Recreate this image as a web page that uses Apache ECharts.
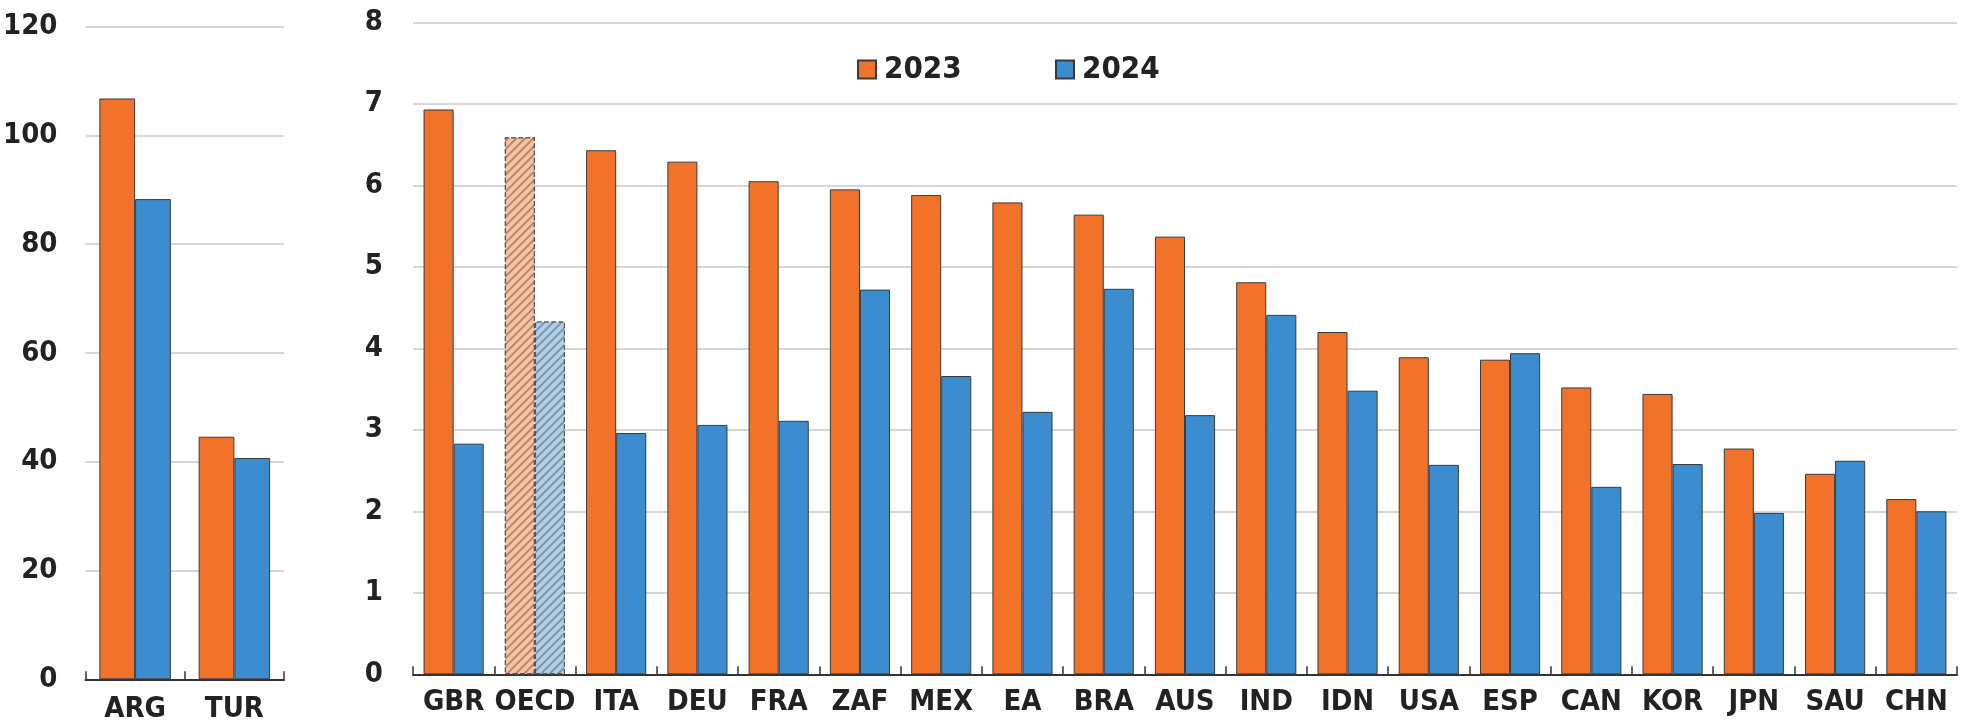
<!DOCTYPE html>
<html>
<head>
<meta charset="utf-8">
<script src="https://cdn.jsdelivr.net/npm/echarts@6/dist/echarts.min.js"></script>
<style>
html,body{margin:0;padding:0;background:#fff;}
#chart{width:1972px;height:725px;}
</style>
</head>
<body>
<div id="chart"></div>
<script>
// ---- data ----
const leftCategories = ['ARG', 'TUR'];
const left2023 = [106.8, 44.6];
const left2024 = [88.3, 40.7];

const rightCategories = ['GBR','OECD','ITA','DEU','FRA','ZAF','MEX','EA','BRA','AUS','IND','IDN','USA','ESP','CAN','KOR','JPN','SAU','CHN'];
const right2023 = [6.93, 6.59, 6.43, 6.29, 6.05, 5.95, 5.88, 5.79, 5.64, 5.37, 4.81, 4.20, 3.89, 3.86, 3.52, 3.44, 2.77, 2.46, 2.15];
const right2024 = [2.83, 4.33, 2.96, 3.06, 3.11, 4.72, 3.66, 3.22, 4.73, 3.18, 4.41, 3.48, 2.57, 3.94, 2.30, 2.58, 1.98, 2.62, 2.00];

const leftTicks = [0, 20, 40, 60, 80, 100, 120];
const rightTicks = [0, 1, 2, 3, 4, 5, 6, 7, 8];
const highlighted = 'OECD';
const seriesNames = ['2023', '2024'];

// ---- styles ----
const FONT = "'Liberation Sans Narrow', 'Arial Narrow', 'DejaVu Sans Condensed', sans-serif";
const ORANGE = '#F3722A';
const BLUE = '#3B8DD0';
const ORANGE_LIGHT = '#F9C3A0';
const BLUE_LIGHT = '#A8D2F0';
const BORDER = '#3a3a3a';

function hatch(bg) {
  return {
    symbol: 'rect',
    symbolSize: 1,
    color: 'rgba(120,90,80,0.55)',
    backgroundColor: bg,
    dashArrayX: [1, 0],
    dashArrayY: [1.5, 3.5],
    rotation: -Math.PI / 4
  };
}

function buildData(cats, vals, isBlue) {
  return vals.map((v, i) => {
    if (cats[i] === highlighted) {
      return {
        value: v,
        itemStyle: {
          color: isBlue ? BLUE_LIGHT : ORANGE_LIGHT,
          borderType: 'dashed',
          borderColor: '#555',
          borderWidth: 1.2,
          decal: hatch(isBlue ? BLUE_LIGHT : ORANGE_LIGHT)
        }
      };
    }
    return v;
  });
}

const axisLabelStyle = { color: '#222', fontFamily: FONT, fontWeight: 'bold', fontSize: 29 };

const chart = echarts.init(document.getElementById('chart'), null, { renderer: 'canvas' });

function catAxis(idx, cats, margin) {
  return {
    type: 'category',
    gridIndex: idx,
    data: cats,
    axisLine: { show: true, lineStyle: { color: '#333', width: 2 } },
    axisTick: { show: true, inside: true, length: 8, lineStyle: { color: '#333', width: 1.5 } },
    axisLabel: Object.assign({ margin: margin, interval: 0 }, axisLabelStyle),
    splitLine: { show: false }
  };
}

function valAxis(idx, ticks, margin) {
  return {
    type: 'value',
    gridIndex: idx,
    min: ticks[0],
    max: ticks[ticks.length - 1],
    interval: ticks[1] - ticks[0],
    axisLine: { show: false },
    axisTick: { show: false },
    axisLabel: Object.assign({ margin: margin }, axisLabelStyle),
    splitLine: { show: true, lineStyle: { color: '#d6d6d6', width: 2 } }
  };
}

const barBorder = { borderColor: BORDER, borderWidth: 1 };

function legendAt(name, left) {
  return {
    data: [name],
    left: left, top: 54, padding: 0,
    icon: 'rect', itemWidth: 18, itemHeight: 18,
    textStyle: { color: '#222', fontFamily: FONT, fontWeight: 'bold', fontSize: 31, padding: [0, 0, 0, 3] }
  };
}

const option = {
  backgroundColor: '#fff',
  animation: false,
  grid: [
    { left: 83, top: 26.7, width: 201, height: 652.6 },
    { left: 413, top: 22.3, width: 1544, height: 652 }
  ],
  legend: [legendAt(seriesNames[0], 857), legendAt(seriesNames[1], 1055)],
  xAxis: [catAxis(0, leftCategories, 16), catAxis(1, rightCategories, 14)],
  yAxis: [valAxis(0, leftTicks, 28), valAxis(1, rightTicks, 30)],
  series: [
    { name: seriesNames[0], type: 'bar', xAxisIndex: 0, yAxisIndex: 0, data: left2023,
      barGap: '0%', barCategoryGap: '28%', itemStyle: Object.assign({ color: ORANGE }, barBorder) },
    { name: seriesNames[1], type: 'bar', xAxisIndex: 0, yAxisIndex: 0, data: left2024,
      barGap: '0%', barCategoryGap: '28%', itemStyle: Object.assign({ color: BLUE }, barBorder) },
    { name: seriesNames[0], type: 'bar', xAxisIndex: 1, yAxisIndex: 1, data: buildData(rightCategories, right2023, false),
      barGap: '0%', barCategoryGap: '26%', itemStyle: Object.assign({ color: ORANGE }, barBorder) },
    { name: seriesNames[1], type: 'bar', xAxisIndex: 1, yAxisIndex: 1, data: buildData(rightCategories, right2024, true),
      barGap: '0%', barCategoryGap: '26%', itemStyle: Object.assign({ color: BLUE }, barBorder) }
  ]
};

chart.setOption(option);
</script>
</body>
</html>
